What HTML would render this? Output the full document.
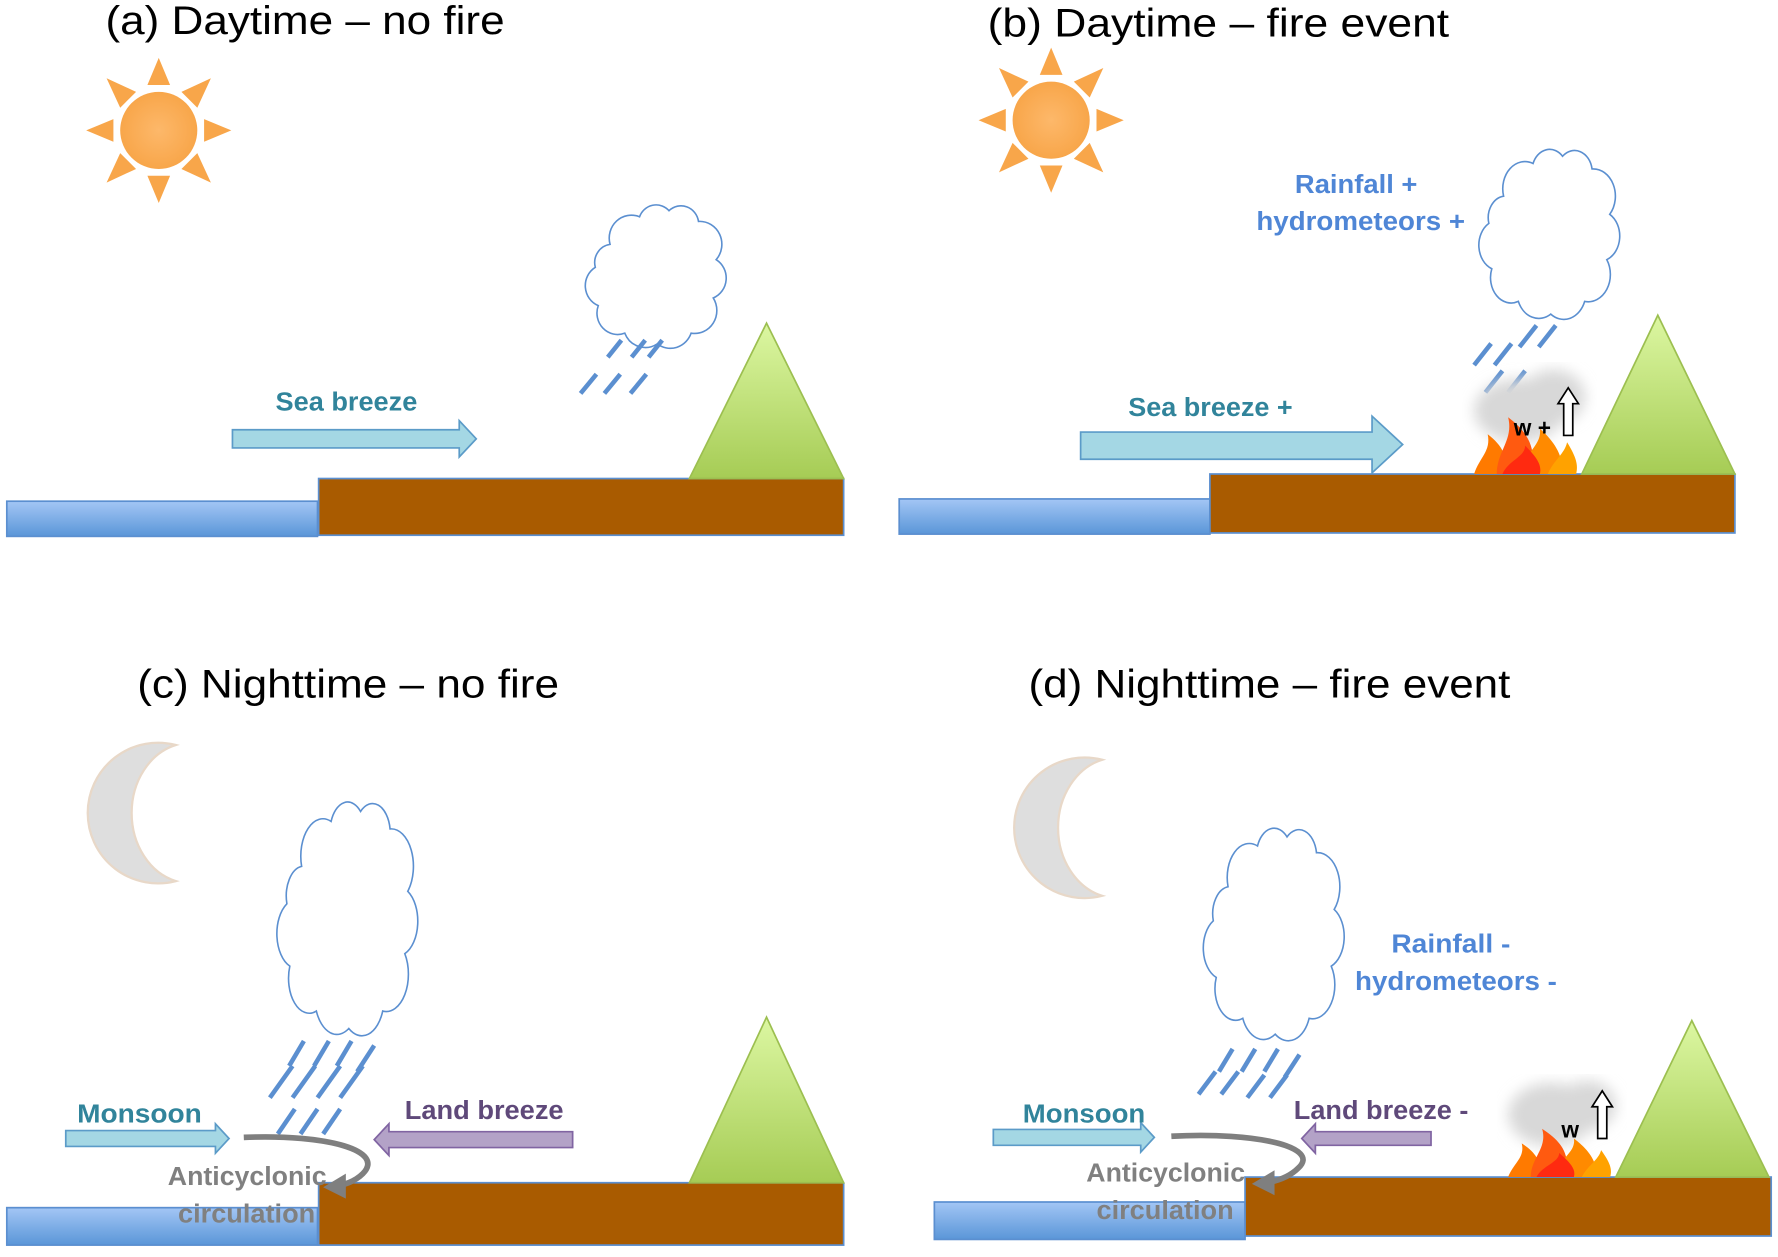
<!DOCTYPE html>
<html><head><meta charset="utf-8"><style>
html,body{margin:0;padding:0;background:#fff;}
svg{display:block;}
text{font-family:"Liberation Sans",sans-serif;}
.t{font-size:35px;fill:#000;}
.lb{font-size:23px;font-weight:bold;}
</style></head><body>
<svg width="1778" height="1257" viewBox="0 0 1568 1108.5" preserveAspectRatio="none" xmlns="http://www.w3.org/2000/svg">
<defs>
<linearGradient id="wat" x1="0" y1="0" x2="0" y2="1"><stop offset="0" stop-color="#a3c6f5"/><stop offset="1" stop-color="#5a96d8"/></linearGradient>
<linearGradient id="mtn" x1="0" y1="0" x2="0" y2="1"><stop offset="0" stop-color="#dcf7a2"/><stop offset="1" stop-color="#a6cc55"/></linearGradient>
<radialGradient id="sun"><stop offset="0" stop-color="#fdb86a"/><stop offset="1" stop-color="#f8a64a"/></radialGradient>
<filter id="blur"><feGaussianBlur stdDeviation="6"/></filter>
<g id="cloud"><path d="M20 30 A15 15 0 0 1 40 12 A12 12 0 0 1 60 8 A12 12 0 0 1 80 15 A15 15 0 0 1 92 40 A14 14 0 0 1 90 65 A15 15 0 0 1 75 88 A15 15 0 0 1 52 95 A15 15 0 0 1 30 88 A14 14 0 0 1 12 70 A14 14 0 0 1 10 45 A12 12 0 0 1 20 30 Z" fill="#fff" stroke="#5b8fd0" stroke-width="1.6" vector-effect="non-scaling-stroke"/></g>
<g id="sunG">
<circle cx="0" cy="0" r="34" fill="url(#sun)"/>
<g fill="#f8a64a">
<polygon points="-10,-40 10,-40 0,-64"/>
<polygon points="-10,40 10,40 0,64"/>
<polygon points="-40,-10 -40,10 -64,0"/>
<polygon points="40,-10 40,10 64,0"/>
<polygon points="-34,-20 -20,-34 -46,-46"/>
<polygon points="34,-20 20,-34 46,-46"/>
<polygon points="-34,20 -20,34 -46,46"/>
<polygon points="34,20 20,34 46,46"/>
</g></g>
<g id="moon"><path d="M35 -60 A62 62 0 1 0 35 60 A52 62 0 0 1 35 -60 Z" fill="#dedede" stroke="#e8d8c8" stroke-width="2"/></g>
<g id="fire">
<path d="M0 0 C5 -15 15 -20 12 -35 C25 -25 30 -15 28 0 Z" fill="#ff7a00"/>
<path d="M20 0 C20 -20 35 -30 30 -50 C50 -35 55 -20 50 0 Z" fill="#ff5a10"/>
<path d="M40 0 C45 -20 60 -25 58 -40 C75 -25 80 -10 76 0 Z" fill="#ff8a00"/>
<path d="M65 0 C70 -12 80 -18 82 -28 C90 -15 92 -8 90 0 Z" fill="#ffa200"/>
<path d="M25 0 C30 -12 45 -15 45 -25 C55 -15 60 -8 58 0 Z" fill="#ff2a10"/>
</g>
</defs>

<!-- Panel a -->
<text class="t" x="93" y="30" textLength="352" lengthAdjust="spacingAndGlyphs">(a) Daytime –  no fire</text>
<use href="#sunG" transform="translate(140,115)"/>
<use href="#cloud" transform="translate(512,175) scale(1.3,1.35)"/>
<g stroke="#5b8fd0" stroke-width="4"><line x1="512" y1="347" x2="526" y2="330"/><line x1="533" y1="347" x2="547" y2="330"/><line x1="556" y1="347" x2="570" y2="330"/><line x1="536" y1="315" x2="548" y2="300"/><line x1="557" y1="315" x2="569" y2="300"/><line x1="572" y1="315" x2="584" y2="300"/></g>
<rect x="6" y="442" width="274" height="31" fill="url(#wat)" stroke="#5b8fd0" stroke-width="1.5"/>
<rect x="281" y="422" width="463" height="50" fill="#a95b00" stroke="#5b8fd0" stroke-width="1.5"/>
<polygon points="608,422 676,285 744,422" fill="url(#mtn)" stroke="#9cbf50" stroke-width="1.5"/>
<polygon points="205,379 405,379 405,371 420,387 405,403 405,395 205,395" fill="#a4d7e4" stroke="#5b9bc8" stroke-width="1.5"/>
<text class="lb" x="243" y="362" fill="#31849b" textLength="125" lengthAdjust="spacingAndGlyphs">Sea breeze</text>

<!-- Panel b -->
<text class="t" x="871" y="32" textLength="407" lengthAdjust="spacingAndGlyphs">(b) Daytime –  fire event</text>
<use href="#sunG" transform="translate(927,106)"/>
<use href="#cloud" transform="translate(1300,125) scale(1.3,1.6)"/>
<g stroke="#5b8fd0" stroke-width="4"><line x1="1300" y1="322" x2="1315" y2="303"/><line x1="1318" y1="322" x2="1333" y2="303"/><line x1="1340" y1="306" x2="1355" y2="287"/><line x1="1357" y1="306" x2="1372" y2="287"/><line x1="1310" y1="346" x2="1325" y2="327"/><line x1="1330" y1="346" x2="1345" y2="327"/></g>
<text class="lb" x="1142" y="170" fill="#4f86d6" textLength="108" lengthAdjust="spacingAndGlyphs">Rainfall +</text>
<text class="lb" x="1108" y="203" fill="#4f86d6" textLength="184" lengthAdjust="spacingAndGlyphs">hydrometeors +</text>
<rect x="793" y="440" width="274" height="31" fill="url(#wat)" stroke="#5b8fd0" stroke-width="1.5"/>
<rect x="1067" y="418" width="463" height="52" fill="#a95b00" stroke="#5b8fd0" stroke-width="1.5"/>
<polygon points="1395,418 1462,278 1530,418" fill="url(#mtn)" stroke="#9cbf50" stroke-width="1.5"/>
<g filter="url(#blur)" fill="#d8d8d8"><ellipse cx="1340" cy="362" rx="40" ry="28"/><ellipse cx="1370" cy="350" rx="28" ry="24"/></g>
<use href="#fire" transform="translate(1300,418)"/>
<text x="1335" y="384" font-size="20" font-weight="bold" fill="#000">w +</text>
<polygon points="1379,384 1379,356 1374,356 1383,342 1392,356 1387,356 1387,384" fill="#fff" stroke="#000" stroke-width="1.5"/>
<polygon points="953,381 1210,381 1210,367 1237,392 1210,417 1210,405 953,405" fill="#a4d7e4" stroke="#5b9bc8" stroke-width="1.5"/>
<text class="lb" x="995" y="367" fill="#31849b" textLength="145" lengthAdjust="spacingAndGlyphs">Sea breeze +</text>

<!-- Panel c -->
<text class="t" x="121" y="615" textLength="372" lengthAdjust="spacingAndGlyphs">(c) Nighttime –  no fire</text>
<use href="#moon" transform="translate(120,717)"/>
<use href="#cloud" transform="translate(240,698) scale(1.3,2.2)"/>
<g stroke="#5b8fd0" stroke-width="4"><line x1="238" y1="968" x2="258" y2="940"/><line x1="258" y1="968" x2="278" y2="940"/><line x1="280" y1="968" x2="300" y2="940"/><line x1="300" y1="968" x2="320" y2="940"/><line x1="255" y1="940" x2="268" y2="918"/><line x1="277" y1="940" x2="290" y2="918"/><line x1="297" y1="940" x2="310" y2="918"/><line x1="315" y1="945" x2="330" y2="922"/><line x1="245" y1="1000" x2="260" y2="978"/><line x1="265" y1="1000" x2="280" y2="978"/><line x1="285" y1="1000" x2="300" y2="978"/></g>
<rect x="6" y="1065" width="274" height="33" fill="url(#wat)" stroke="#5b8fd0" stroke-width="1.5"/>
<rect x="281" y="1043" width="463" height="55" fill="#a95b00" stroke="#5b8fd0" stroke-width="1.5"/>
<polygon points="608,1043 676,897 744,1043" fill="url(#mtn)" stroke="#9cbf50" stroke-width="1.5"/>
<polygon points="58,997 190,997 190,991 202,1004 190,1017 190,1011 58,1011" fill="#a4d7e4" stroke="#5b9bc8" stroke-width="1.5"/>
<text class="lb" x="68" y="990" fill="#31849b" textLength="110" lengthAdjust="spacingAndGlyphs">Monsoon</text>
<polygon points="505,998 343,998 343,991 330,1005 343,1019 343,1012 505,1012" fill="#b3a2c7" stroke="#8064a2" stroke-width="1.5"/>
<text class="lb" x="357" y="987" fill="#5f497a" textLength="140" lengthAdjust="spacingAndGlyphs">Land breeze</text>
<path d="M215 1003 C290 1000 340 1015 320 1035 C312 1043 300 1046 290 1047" fill="none" stroke="#7f7f7f" stroke-width="5"/>
<polygon points="285,1047 305,1035 305,1057" fill="#7f7f7f"/>
<text class="lb" x="148" y="1045" fill="#808080" textLength="140" lengthAdjust="spacingAndGlyphs">Anticyclonic</text>
<text class="lb" x="157" y="1078" fill="#808080" textLength="121" lengthAdjust="spacingAndGlyphs">circulation</text>

<!-- Panel d -->
<text class="t" x="907" y="615" textLength="425" lengthAdjust="spacingAndGlyphs">(d) Nighttime – fire event</text>
<use href="#moon" transform="translate(937,730)"/>
<use href="#cloud" transform="translate(1057,722) scale(1.3,2.0)"/>
<g stroke="#5b8fd0" stroke-width="4"><line x1="1057" y1="965" x2="1072" y2="945"/><line x1="1077" y1="965" x2="1092" y2="945"/><line x1="1100" y1="968" x2="1115" y2="948"/><line x1="1120" y1="968" x2="1135" y2="948"/><line x1="1075" y1="945" x2="1087" y2="925"/><line x1="1095" y1="945" x2="1107" y2="925"/><line x1="1115" y1="945" x2="1127" y2="925"/><line x1="1133" y1="950" x2="1146" y2="930"/></g>
<text class="lb" x="1227" y="840" fill="#4f86d6" textLength="105" lengthAdjust="spacingAndGlyphs">Rainfall -</text>
<text class="lb" x="1195" y="873" fill="#4f86d6" textLength="178" lengthAdjust="spacingAndGlyphs">hydrometeors -</text>
<rect x="824" y="1060" width="274" height="33" fill="url(#wat)" stroke="#5b8fd0" stroke-width="1.5"/>
<rect x="1098" y="1038" width="464" height="52" fill="#a95b00" stroke="#5b8fd0" stroke-width="1.5"/>
<polygon points="1425,1038 1492,900 1560,1038" fill="url(#mtn)" stroke="#9cbf50" stroke-width="1.5"/>
<g filter="url(#blur)" fill="#d8d8d8"><ellipse cx="1368" cy="983" rx="38" ry="28"/><ellipse cx="1400" cy="975" rx="25" ry="22"/></g>
<use href="#fire" transform="translate(1330,1038) scale(1,0.85)"/>
<text x="1377" y="1003" font-size="20" font-weight="bold" fill="#000">w</text>
<polygon points="1409,1004 1409,976 1404,976 1413,962 1422,976 1417,976 1417,1004" fill="#fff" stroke="#000" stroke-width="1.5"/>
<polygon points="876,996 1006,996 1006,990 1018,1003 1006,1016 1006,1010 876,1010" fill="#a4d7e4" stroke="#5b9bc8" stroke-width="1.5"/>
<text class="lb" x="902" y="990" fill="#31849b" textLength="108" lengthAdjust="spacingAndGlyphs">Monsoon</text>
<polygon points="1262,998 1160,998 1160,991 1148,1004 1160,1017 1160,1010 1262,1010" fill="#b3a2c7" stroke="#8064a2" stroke-width="1.5"/>
<text class="lb" x="1141" y="987" fill="#5f497a" textLength="154" lengthAdjust="spacingAndGlyphs">Land breeze -</text>
<path d="M1033 1002 C1110 998 1165 1012 1145 1030 C1135 1040 1120 1043 1110 1044" fill="none" stroke="#7f7f7f" stroke-width="5"/>
<polygon points="1104,1044 1124,1032 1124,1054" fill="#7f7f7f"/>
<text class="lb" x="958" y="1042" fill="#808080" textLength="140" lengthAdjust="spacingAndGlyphs">Anticyclonic</text>
<text class="lb" x="967" y="1075" fill="#808080" textLength="121" lengthAdjust="spacingAndGlyphs">circulation</text>
</svg>
</body></html>
